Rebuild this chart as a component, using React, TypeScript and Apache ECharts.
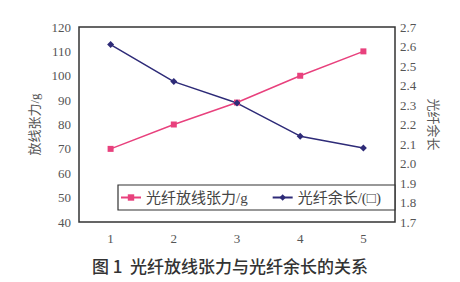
import React, { useEffect, useRef } from "react";
import * as echarts from "echarts";

const categories = ["1", "2", "3", "4", "5"];
const tensionValues = [70, 80, 89, 100, 110];
const excessLengthValues = [2.61, 2.42, 2.31, 2.14, 2.08];
const tensionName = "光纤放线张力/g";
const excessName = "光纤余长/(□)";
const caption = "图 1  光纤放线张力与光纤余长的关系";

export default function App() {
  const ref = useRef<HTMLDivElement>(null);
  useEffect(() => {
    if (!ref.current) return;
    const chart = echarts.init(ref.current, null, { renderer: "svg" });
    const serif = "'Liberation Serif', 'DejaVu Serif', 'Noto Sans CJK SC', serif";
    const labelColor = "#555";
    chart.setOption({
      animation: false,
      backgroundColor: "#ffffff",
      grid: {
        left: 79,
        right: 65,
        top: 27,
        bottom: 60,
        show: true,
        borderColor: "#333",
        borderWidth: 1.5,
        backgroundColor: "transparent",
      },
      legend: {
        left: 118,
        top: 185,
        itemGap: 24,
        itemWidth: 20,
        itemHeight: 8,
        borderColor: "#333",
        borderWidth: 1.2,
        backgroundColor: "#fff",
        padding: [5, 14, 5, 2],
        textStyle: { fontFamily: serif, fontSize: 15, color: "#444" },
        data: [tensionName, excessName],
      },
      xAxis: {
        type: "category",
        data: categories,
        boundaryGap: true,
        axisLine: { show: false },
        axisTick: { show: false },
        axisLabel: { fontFamily: serif, fontSize: 13, color: labelColor, margin: 10 },
        splitLine: { show: false },
      },
      yAxis: [
        {
          type: "value",
          min: 40,
          max: 120,
          interval: 10,
          name: "放线张力/g",
          nameLocation: "middle",
          nameGap: 38,
          nameRotate: 90,
          nameTextStyle: { fontFamily: serif, fontSize: 13, color: labelColor },
          axisLine: { show: false },
          axisTick: { show: false },
          splitLine: { show: false },
          axisLabel: { fontFamily: serif, fontSize: 13, color: labelColor, margin: 8 },
        },
        {
          type: "value",
          min: 1.7,
          max: 2.7,
          interval: 0.1,
          name: "光纤余长",
          nameLocation: "middle",
          nameGap: 32,
          nameRotate: -90,
          nameTextStyle: { fontFamily: serif, fontSize: 13, color: labelColor },
          axisLine: { show: false },
          axisTick: { show: false },
          splitLine: { show: false },
          axisLabel: {
            fontFamily: serif,
            fontSize: 13,
            color: labelColor,
            margin: 5,
            formatter: (v: number) => v.toFixed(1),
          },
        },
      ],
      series: [
        {
          name: tensionName,
          type: "line",
          data: tensionValues,
          yAxisIndex: 0,
          symbol: "rect",
          symbolSize: 6,
          itemStyle: { color: "#e8417d" },
          lineStyle: { color: "#e8417d", width: 1.5 },
        },
        {
          name: excessName,
          type: "line",
          data: excessLengthValues,
          yAxisIndex: 1,
          symbol: "diamond",
          symbolSize: 7,
          itemStyle: { color: "#2e2b78" },
          lineStyle: { color: "#2e2b78", width: 1.5 },
        },
      ],
      graphic: [
        {
          type: "text",
          left: "center",
          top: 257,
          style: {
            text: caption,
            fontFamily: "'Noto Sans CJK SC', sans-serif",
            fontSize: 17,
            fontWeight: 500,
            fill: "#333",
          },
        },
      ],
    });
    return () => chart.dispose();
  }, []);
  return <div ref={ref} style={{ width: 460, height: 282, position: "absolute", left: 0, top: 0 }} />;
}
